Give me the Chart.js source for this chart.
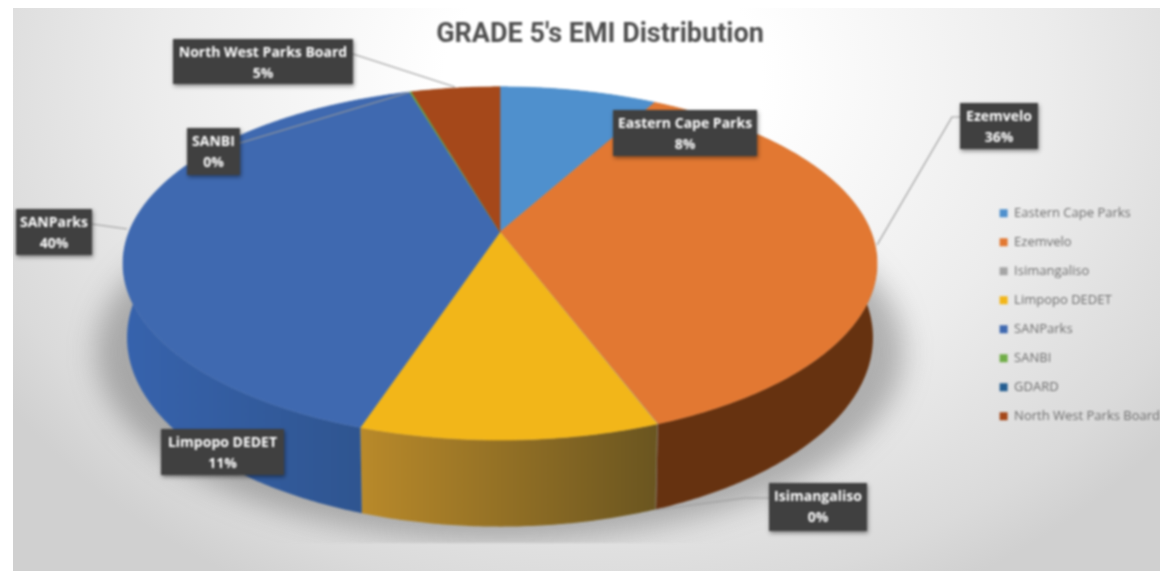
<!DOCTYPE html>
<html>
<head>
<meta charset="utf-8">
<title>GRADE 5's EMI Distribution</title>
<script src="https://cdn.jsdelivr.net/npm/chart.js@4"></script>
<style>
    html, body { margin: 0; padding: 0; background: #fff; }
    #wrap { position: relative; width: 1160px; height: 571px; overflow: hidden; }
    #back { position: absolute; left: 13px; top: 8px; right: 0; bottom: 0;
        background: radial-gradient(ellipse 720px 580px at 590px 70px, #fff 22%, #ececec 62%, #dadada 90%, #d0d0d0 100%); }
    canvas { position: absolute; left: 0; top: 0; filter: blur(0.8px); }
</style>
</head>
<body>
<div id="wrap">
    <div id="back"></div>
    <canvas id="pie" width="1160" height="571"></canvas>
</div>
<script>
const titleText = "GRADE 5's EMI Distribution"
const categories = ['Eastern Cape Parks', 'Ezemvelo', 'Isimangaliso', 'Limpopo DEDET', 'SANParks', 'SANBI', 'GDARD', 'North West Parks Board']
const shares = [8, 36.2, 0.02, 10.8, 40.3, 0.1, 0, 4.5]
const labelledNames = ['Eastern Cape Parks', 'Ezemvelo', 'Isimangaliso', 'Limpopo DEDET', 'SANParks', 'SANBI', 'North West Parks Board']
const labelledShares = [8, 36, 0, 11, 40, 0, 5]

const topColors = ['#4f90cd', '#e27832', '#a5a5a5', '#f2b619', '#3f69b0', '#70ad47', '#255e91', '#a5481a']
const wallColors = [
    ['#3a6c9a', '#3a6c9a'], ['#663210', '#663210'], ['#7a7a7a', '#7a7a7a'], ['#b8892a', '#6a5520'],
    ['#3763ad', '#2f5590'], ['#547f36', '#547f36'], ['#1b466c', '#1b466c'], ['#6b300a', '#6b300a']
]

// label boxes and their leader lines, in page pixels
const boxes = [
    { x: 613, y: 110, w: 144, h: 46, line: [] },
    { x: 960, y: 103, w: 78, h: 46, line: [[960, 117], [952, 117], [877, 245]] },
    { x: 769, y: 483, w: 98, h: 48, line: [[769, 498], [745, 498], [655, 510]] },
    { x: 161, y: 429, w: 123, h: 46, line: [] },
    { x: 16, y: 209, w: 76, h: 46, line: [[92, 224], [127, 229]] },
    { x: 187, y: 128, w: 53, h: 47, line: [[240, 143], [410, 92]] },
    { x: 173, y: 39, w: 180, h: 45, line: [[353, 54], [455, 87]] }
]

// perspective of the pie plate: unit circle -> page pixels
const plate = { cx: 500, cy: 232, a: 371, b: 171, p: 0.178 }
const floor = { cx: 500, cy: 304, a: 367, b: 183, p: 0.178 }

const project = (view, angle) => {
    const u = Math.cos(angle)
    const v = Math.sin(angle)
    const d = 1 - view.p * v
    return [view.cx + view.a * u / d, view.cy + view.b * v / d]
}

const traceEdge = (ctx, view, from, to, first) => {
    const steps = Math.max(2, Math.ceil(Math.abs(to - from) / 0.01))
    for (let i = 0; i <= steps; i++) {
        const [x, y] = project(view, from + (to - from) * i / steps)
        if (i === 0 && first) { ctx.moveTo(x, y) } else { ctx.lineTo(x, y) }
    }
}

const drawShadow = ctx => {
    ctx.save()
    ctx.beginPath()
    ctx.rect(13, 8, 1147, 535)
    ctx.clip()
    ctx.filter = 'blur(14px)'
    ctx.fillStyle = 'rgba(90,90,90,0.42)'
    ctx.beginPath()
    const shadow = { ...floor, cy: floor.cy + 14, a: floor.a + 30 }
    traceEdge(ctx, shadow, 0, Math.PI * 2, true)
    ctx.fill()
    ctx.restore()
}

// x range of the part of an arc that faces the viewer
const frontRange = arc => {
    let min = Infinity
    let max = -Infinity
    for (let a = arc.startAngle; a <= arc.endAngle; a += 0.01) {
        if (Math.sin(a) < 0) { continue }
        const x = project(plate, a)[0]
        min = Math.min(min, x)
        max = Math.max(max, x)
    }
    return [min, max]
}

const drawWalls = (ctx, arcs) => {
    arcs.forEach((arc, i) => {
        if (arc.endAngle - arc.startAngle < 0.0005) { return }
        const [min, max] = frontRange(arc)
        if (min === Infinity || max - min < 1) {
            ctx.fillStyle = wallColors[i][0]
        } else {
            const grad = ctx.createLinearGradient(min, 0, max, 0)
            grad.addColorStop(0, wallColors[i][0])
            grad.addColorStop(1, wallColors[i][1])
            ctx.fillStyle = grad
        }
        ctx.beginPath()
        traceEdge(ctx, plate, arc.startAngle, arc.endAngle, true)
        traceEdge(ctx, floor, arc.endAngle, arc.startAngle, false)
        ctx.closePath()
        ctx.fill()
    })
}

const drawPlate = (ctx, arcs) => {
    arcs.forEach((arc, i) => {
        if (arc.endAngle - arc.startAngle < 0.0005) { return }
        ctx.fillStyle = topColors[i]
        ctx.strokeStyle = topColors[i]
        ctx.lineWidth = 0.6
        ctx.beginPath()
        ctx.moveTo(plate.cx, plate.cy)
        traceEdge(ctx, plate, arc.startAngle, arc.endAngle, false)
        ctx.closePath()
        ctx.fill()
        ctx.stroke()
    })
}

const drawBoxes = ctx => {
    boxes.forEach((box, i) => {
        if (box.line.length) {
            ctx.strokeStyle = '#9a9a9a'
            ctx.lineWidth = 1.2
            ctx.beginPath()
            box.line.forEach(([x, y], n) => n === 0 ? ctx.moveTo(x, y) : ctx.lineTo(x, y))
            ctx.stroke()
        }
        ctx.save()
        ctx.shadowColor = 'rgba(0,0,0,0.45)'
        ctx.shadowBlur = 4
        ctx.shadowOffsetX = 1
        ctx.shadowOffsetY = 2
        ctx.fillStyle = '#404040'
        ctx.fillRect(box.x, box.y, box.w, box.h)
        ctx.restore()
        ctx.fillStyle = '#fff'
        ctx.font = 'bold 14px "Open Sans"'
        ctx.textAlign = 'center'
        ctx.textBaseline = 'middle'
        const mid = box.x + box.w / 2
        ctx.fillText(labelledNames[i], mid, box.y + 14.5)
        ctx.fillText(labelledShares[i] + '%', mid, box.y + 35.5)
    })
}

const pie3d = {
    id: 'pie3d',
    beforeDatasetsDraw(chart) {
        const ctx = chart.ctx
        const arcs = chart.getDatasetMeta(0).data
        drawShadow(ctx)
        drawWalls(ctx, arcs)
        drawPlate(ctx, arcs)
        drawBoxes(ctx)
        return false
    }
}

new Chart(document.getElementById('pie'), {
    type: 'pie',
    plugins: [pie3d],
    data: {
        labels: categories,
        datasets: [{ data: shares, backgroundColor: topColors, borderWidth: 0 }]
    },
    options: {
        responsive: false,
        animation: false,
        layout: { padding: { left: 30, top: 14, bottom: 0, right: -10 } },
        plugins: {
            tooltip: { enabled: false },
            title: {
                display: true,
                text: titleText,
                color: '#505050',
                font: { family: 'Roboto', size: 27, weight: '700' },
                padding: { top: 5, bottom: 7 }
            },
            legend: {
                position: 'right',
                fullSize: false,
                labels: {
                    boxWidth: 8,
                    boxHeight: 8,
                    padding: 16,
                    color: '#6e6e6e',
                    font: { family: '"Open Sans"', size: 13 }
                }
            }
        }
    }
})
</script>
</body>
</html>
